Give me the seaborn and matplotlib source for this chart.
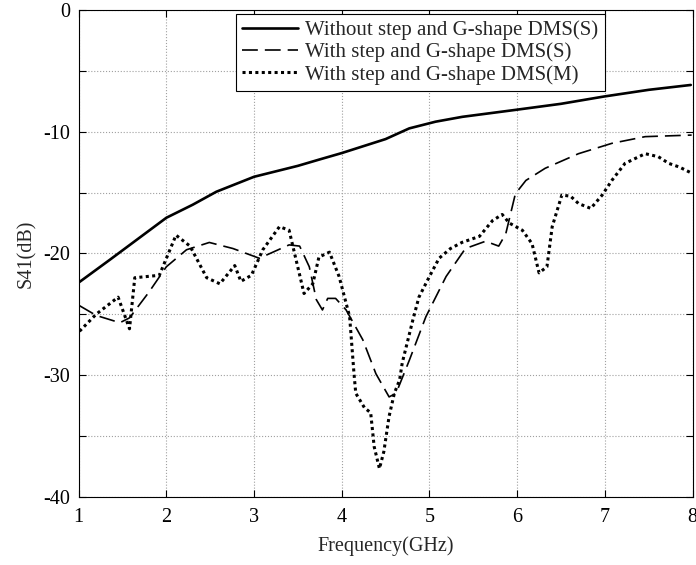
import numpy as np
import pandas as pd
import matplotlib
matplotlib.use("Agg")
import matplotlib.pyplot as plt
import seaborn as sns

# ---- data ----
solid_x = [1.0, 1.36, 1.5, 2.0, 2.3, 2.57, 3.0, 3.5, 3.75, 4.0, 4.5, 4.77, 5.07, 5.375, 5.98, 6.5, 6.99, 7.5, 7.98]
solid_y = [-22.4, -20.5, -19.75, -17.07, -16.0, -14.93, -13.7, -12.8, -12.27, -11.75, -10.6, -9.72, -9.17, -8.77, -8.2, -7.7, -7.1, -6.55, -6.15]

dash_x = [1.01, 1.2, 1.47, 1.58, 1.8, 2.0, 2.23, 2.49, 2.76, 3.06, 3.4, 3.52, 3.63, 3.71, 3.78, 3.84, 3.93, 4.05,
          4.24, 4.39, 4.54, 4.62, 4.77, 4.96, 5.19, 5.41, 5.64, 5.79, 5.87, 5.98, 6.1, 6.32, 6.7, 7.08, 7.46, 7.99]
dash_y = [-24.3, -25.1, -25.7, -25.3, -23.2, -21.1, -19.7, -19.1, -19.6, -20.4, -19.3, -19.4, -21.1, -23.8, -24.65, -23.7, -23.7, -24.65,
          -27.1, -29.9, -31.8, -31.5, -28.8, -25.2, -21.9, -19.6, -19.0, -19.4, -18.4, -15.1, -14.0, -13.0, -11.8, -10.95, -10.4, -10.27]

dot_x = [1.01, 1.2, 1.45, 1.58, 1.64, 1.92, 2.11, 2.27, 2.46, 2.61, 2.78, 2.85, 2.97, 3.10, 3.29, 3.40, 3.57, 3.67, 3.74, 3.86,
         3.97, 4.09, 4.14, 4.16, 4.26, 4.33, 4.37, 4.43, 4.48, 4.54, 4.60, 4.66, 4.69, 4.81, 4.88, 5.0, 5.11, 5.24, 5.37,
         5.57, 5.72, 5.83, 5.91, 6.06, 6.17, 6.25, 6.34, 6.40, 6.51, 6.61, 6.70, 6.84, 6.97, 7.08, 7.23, 7.46, 7.61, 7.73, 7.85, 7.99]
dot_y = [-26.4, -25.0, -23.6, -26.2, -22.0, -21.8, -18.5, -19.4, -22.0, -22.5, -21.0, -22.3, -21.8, -19.7, -17.8, -18.1, -23.3, -22.5, -20.3, -19.9,
         -21.9, -25.2, -29.9, -31.5, -32.7, -33.1, -35.9, -37.7, -36.3, -33.4, -31.5, -30.4, -29.0, -25.5, -23.6, -21.9, -20.4, -19.6, -19.1,
         -18.6, -17.3, -16.8, -17.5, -18.1, -19.2, -21.6, -21.1, -17.8, -15.2, -15.3, -15.9, -16.3, -15.2, -14.0, -12.6, -11.8, -12.05, -12.6, -12.9, -13.4]

labels = ["Without step and G-shape DMS(S)", "With step and G-shape DMS(S)", "With step and G-shape DMS(M)"]
x_ticks = [1, 2, 3, 4, 5, 6, 7, 8]
y_ticks = [-40, -35, -30, -25, -20, -15, -10, -5, 0]
y_ticklabels = ["-40", "", "-30", "", "-20", "", "-10", "", "0"]

sns.set_style("ticks")
plt.rcParams["font.family"] = ["Liberation Serif", "DejaVu Serif"]

fig = plt.figure(figsize=(6.96, 5.65), dpi=100)
ax = fig.add_axes([0.113, 0.121, 0.882, 0.861])

sns.lineplot(x=solid_x, y=solid_y, ax=ax, color="black", linewidth=1.9, label=labels[0], sort=False)
sns.lineplot(x=dash_x, y=dash_y, ax=ax, color="black", linewidth=1.2, label=labels[1], sort=False)
sns.lineplot(x=dot_x, y=dot_y, ax=ax, color="black", linewidth=2.2, label=labels[2], sort=False)

lines = ax.get_lines()
lines[1].set_dashes((9.5, 4.2))
lines[2].set_dashes((1, 1.1))

ax.set_xlim(1, 8)
ax.set_ylim(-40, 0)
ax.set_xticks(x_ticks)
ax.set_xticklabels([str(t) for t in x_ticks])
ax.set_yticks(y_ticks)
ax.set_yticklabels(y_ticklabels)
ax.tick_params(direction="in", top=True, right=True, length=5, width=0.8, labelsize=14.5, colors="black")
ax.tick_params(axis="x", pad=8.5)
ax.tick_params(axis="y", pad=6)
ax.grid(True, linestyle=":", color="#a0a0a0", linewidth=0.8)
for s in ax.spines.values():
    s.set_visible(True)
    s.set_color("black")
    s.set_linewidth(0.8)

ax.set_xlabel("Frequency(GHz)", fontsize=14.5, labelpad=6.5)
ax.set_ylabel("S41(dB)", fontsize=14.5, labelpad=5)

leg = ax.legend(loc="upper right", bbox_to_anchor=(0.857, 0.992), borderaxespad=0, fontsize=15,
                frameon=True, fancybox=False, edgecolor="black", framealpha=1, handlelength=2.7,
                handletextpad=0.33, labelspacing=0.12, borderpad=0.3)
leg.get_frame().set_linewidth(0.8)

fig.savefig("out.png", dpi=100)
